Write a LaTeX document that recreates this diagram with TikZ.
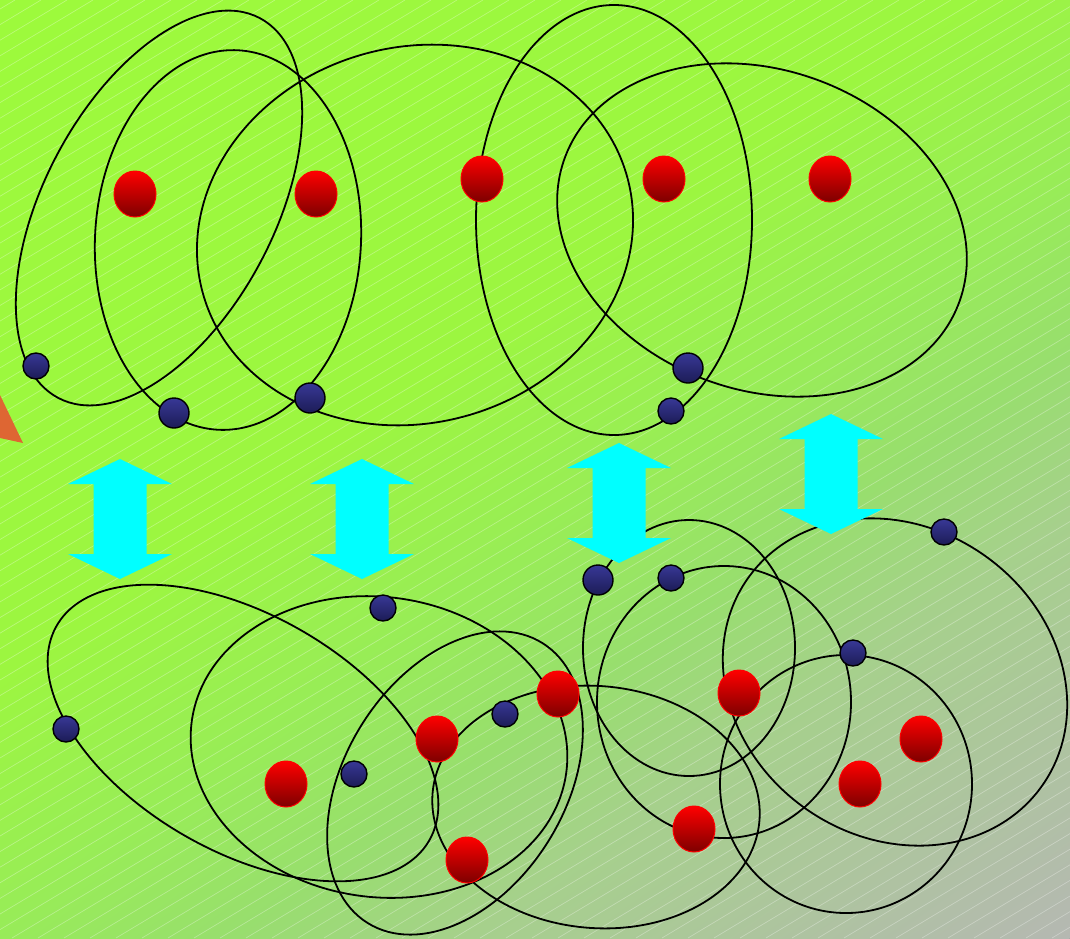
\documentclass[tikz,border=0pt]{standalone}
\usetikzlibrary{shapes.geometric}
\definecolor{bgA}{RGB}{157,250,60}
\definecolor{bgAA}{RGB}{156,246,64}
\definecolor{bgC}{RGB}{152,236,88}
\definecolor{bgD}{RGB}{152,222,110}
\definecolor{bgE}{RGB}{166,208,140}
\definecolor{bgB}{RGB}{181,184,178}
\definecolor{arrowc}{RGB}{0,255,255}
\definecolor{tric}{RGB}{222,102,51}
\definecolor{rtop}{RGB}{255,0,0}
\definecolor{rbot}{RGB}{125,0,0}
\definecolor{btop}{RGB}{56,56,150}
\definecolor{bbot}{RGB}{28,28,86}
\pgfdeclarehorizontalshading{bgshade}{100bp}{color(0bp)=(bgA); color(25bp)=(bgA); color(45bp)=(bgAA); color(52.5bp)=(bgC); color(57.5bp)=(bgD); color(62.5bp)=(bgE); color(75bp)=(bgB); color(100bp)=(bgB)}
\begin{document}
\begin{tikzpicture}[x=1pt,y=-1pt,
  ring/.style={draw=black, line width=1.8pt},
  reddot/.style={ellipse, minimum width=42pt, minimum height=46pt, inner sep=0pt, top color=rtop, bottom color=rbot, draw=red, line width=1pt},
  bluedot/.style={circle, minimum size=26pt, inner sep=0pt, top color=btop, bottom color=bbot, draw=black, line width=1.4pt},
  bigblue/.style={bluedot, minimum size=30pt},
  dblarrow/.pic={\fill[arrowc] (0,-60) -- (52,-35) -- (26.5,-35) -- (26.5,35) -- (52,35) -- (0,60) -- (-52,35) -- (-26.5,35) -- (-26.5,-35) -- (-52,-35) -- cycle;}]
\useasboundingbox (0,0) rectangle (1070,938);
\begin{scope}
\clip (0,0) rectangle (1070,938);
\begin{scope}[transform canvas={rotate around={-55:(0,0)}}]
\fill[shading=bgshade] (0,-1000) rectangle (1382,1000);
\end{scope}
\foreach \i in {-1600,-1574,...,1080} \draw[white, opacity=0.3, line width=0.7pt] (\i,938) -- ++(1563,-938);
\end{scope}
% orange triangle
\fill[tric] (0,395) -- (23,443) -- (0,438) -- cycle;
% top ellipses
\draw[ring] (159,208) ellipse [x radius=215, y radius=115, rotate=62];
\draw[ring] (228,240) ellipse [x radius=190, y radius=133, rotate=87];
\draw[ring] (415,235) ellipse [x radius=220, y radius=188, rotate=15];
\draw[ring] (614,220) ellipse [x radius=215, y radius=138, rotate=90];
\draw[ring] (762,230) ellipse [x radius=210, y radius=160, rotate=-20];
% bottom ellipses
\draw[ring] (243,733) ellipse [x radius=215, y radius=118, rotate=-30];
\draw[ring] (379,747) ellipse [x radius=189, y radius=150, rotate=-8];
\draw[ring] (455,783) ellipse [x radius=165, y radius=110, rotate=58];
\draw[ring] (596,807) ellipse [x radius=164, y radius=121, rotate=-5];
\draw[ring] (689,648) ellipse [x radius=106, y radius=128];
\draw[ring] (724,702) ellipse [x radius=127, y radius=136];
\draw[ring] (895,682) ellipse [x radius=180, y radius=155, rotate=-35];
\draw[ring] (846,784) ellipse [x radius=126, y radius=129];
% arrows
\pic at (120,519) {dblarrow};
\pic at (362,519) {dblarrow};
\pic at (619,503) {dblarrow};
\pic at (831,474) {dblarrow};
% red dots top
\node[reddot] (r1) at (135,194) {};
\node[reddot] (r2) at (316,194) {};
\node[reddot] (r3) at (482,179) {};
\node[reddot] (r4) at (664,179) {};
\node[reddot] (r5) at (830,179) {};
% red dots bottom
\node[reddot] (r6) at (286,784) {};
\node[reddot] (r7) at (437,739) {};
\node[reddot] (r8) at (558,694) {};
\node[reddot] (r9) at (467,860) {};
\node[reddot] (r10) at (739,693) {};
\node[reddot] (r11) at (921,739) {};
\node[reddot] (r12) at (860,784) {};
\node[reddot] (r13) at (694,829) {};
% blue dots top
\node[bluedot] (b1) at (36,366) {};
\node[bigblue] (b2) at (174,413) {};
\node[bigblue] (b3) at (310,398) {};
\node[bigblue] (b4) at (688,368) {};
\node[bluedot] (b5) at (671,411) {};
% blue dots bottom
\node[bluedot] (b6) at (66,729) {};
\node[bluedot] (b7) at (383,608) {};
\node[bluedot] (b8) at (354,774) {};
\node[bluedot] (b9) at (505,714) {};
\node[bigblue] (b10) at (598,580) {};
\node[bluedot] (b11) at (671,578) {};
\node[bluedot] (b12) at (853,653) {};
\node[bluedot] (b13) at (944,532) {};
\end{tikzpicture}
\end{document}
